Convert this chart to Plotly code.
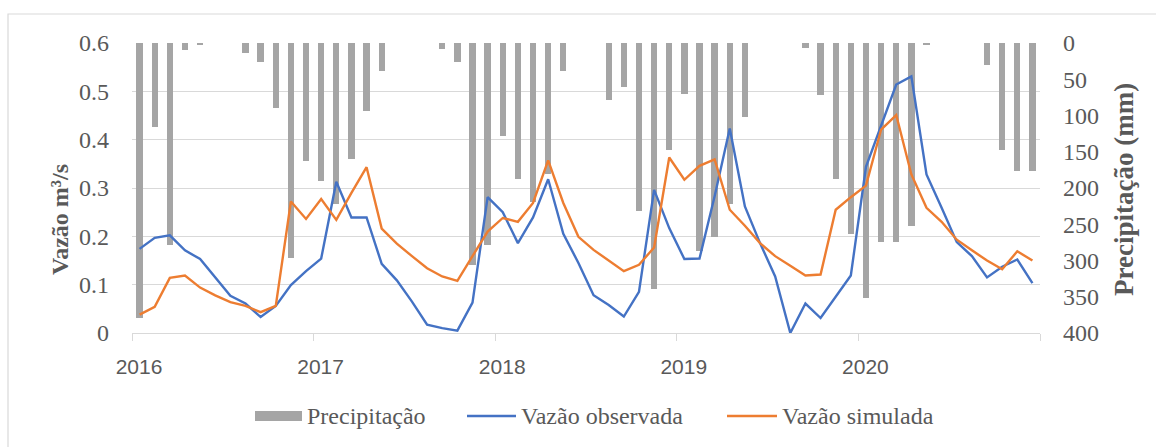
import plotly.graph_objects as go

# Monthly series, Jan 2016 - Dec 2020
months = [f"{y}-{m:02d}" for y in range(2016, 2021) for m in range(1, 13)]

precipitacao = [
    379, 116, 279, 10, 3, 0, 0, 14, 26, 90, 297, 163,
    191, 222, 160, 94, 39, 0, 0, 0, 8, 26, 306, 278,
    128, 187, 219, 180, 38, 0, 0, 78, 60, 232, 339, 148,
    70, 287, 267, 222, 102, 0, 0, 0, 7, 72, 188, 263,
    352, 274, 275, 253, 2, 0, 0, 0, 31, 147, 177, 177,
]

vazao_observada = [
    0.174, 0.197, 0.202, 0.171, 0.153, 0.114, 0.077, 0.061, 0.033, 0.056, 0.099, 0.128,
    0.154, 0.313, 0.239, 0.239, 0.143, 0.109, 0.065, 0.017, 0.010, 0.005, 0.063, 0.281,
    0.250, 0.186, 0.239, 0.318, 0.205, 0.145, 0.078, 0.058, 0.034, 0.085, 0.296, 0.217,
    0.153, 0.154, 0.283, 0.423, 0.262, 0.186, 0.117, 0.000, 0.061, 0.031, 0.074, 0.119,
    0.344, 0.427, 0.514, 0.531, 0.328, 0.259, 0.188, 0.159, 0.115, 0.137, 0.152, 0.103,
]

vazao_simulada = [
    0.038, 0.054, 0.114, 0.119, 0.094, 0.078, 0.064, 0.056, 0.043, 0.056, 0.272, 0.236,
    0.277, 0.234, 0.290, 0.343, 0.216, 0.185, 0.159, 0.134, 0.117, 0.108, 0.159, 0.210,
    0.238, 0.230, 0.269, 0.357, 0.269, 0.199, 0.172, 0.150, 0.128, 0.141, 0.177, 0.363,
    0.317, 0.346, 0.359, 0.255, 0.222, 0.186, 0.159, 0.139, 0.119, 0.121, 0.255, 0.281,
    0.305, 0.421, 0.451, 0.328, 0.259, 0.230, 0.193, 0.171, 0.150, 0.132, 0.169, 0.150,
]

year_labels = ["2016", "2017", "2018", "2019", "2020"]

# each month sits in the middle of its slot on a continuous month axis
xpos = [i + 0.5 for i in range(len(months))]
year_ticks = [12 * k for k in range(len(year_labels) + 1)]

GRAY_TXT = "#595959"
GRID = "#D9D9D9"
SERIF = "Liberation Serif, Times New Roman, serif"
SANS = "Liberation Sans, Arial, sans-serif"

W, H = 1156, 447
L, R, T, B = 132, 116, 43, 114
PW, PH = W - L - R, H - T - B


def px(x):
    return (x - L) / PW


def py(y):
    return (H - B - y) / PH


fig = go.Figure()

# precipitation hangs from the top on the reversed right-hand axis
fig.add_trace(go.Bar(
    x=xpos, y=precipitacao, name="Precipitação", yaxis="y",
    width=0.42, marker=dict(color="#A5A5A5", line=dict(width=0)),
    customdata=months, hovertemplate="%{customdata}: %{y} mm<extra></extra>",
))
fig.add_trace(go.Scatter(
    x=xpos, y=vazao_observada, name="Vazão observada", yaxis="y2",
    mode="lines", line=dict(color="#4472C4", width=2.4),
    customdata=months, hovertemplate="%{customdata}: %{y}<extra></extra>",
))
fig.add_trace(go.Scatter(
    x=xpos, y=vazao_simulada, name="Vazão simulada", yaxis="y2",
    mode="lines", line=dict(color="#ED7D31", width=2.4),
    customdata=months, hovertemplate="%{customdata}: %{y}<extra></extra>",
))

shapes = [
    # outer chart frame
    dict(type="rect", xref="paper", yref="paper",
         x0=px(8), x1=px(1175), y0=py(470), y1=py(14),
         line=dict(color=GRID, width=1.2), fillcolor="rgba(0,0,0,0)", layer="below"),
    # legend swatches
    dict(type="rect", xref="paper", yref="paper",
         x0=px(255), x1=px(302), y0=py(421), y1=py(411),
         line=dict(width=0), fillcolor="#A5A5A5"),
    dict(type="line", xref="paper", yref="paper",
         x0=px(467), x1=px(516), y0=py(416), y1=py(416),
         line=dict(color="#4472C4", width=2.6)),
    dict(type="line", xref="paper", yref="paper",
         x0=px(727), x1=px(777), y0=py(416), y1=py(416),
         line=dict(color="#ED7D31", width=2.6)),
]

annotations = [
    dict(text="Precipitação", x=px(305), y=py(416), xref="paper", yref="paper",
         xanchor="left", yanchor="middle", showarrow=False,
         font=dict(family=SERIF, size=24, color=GRAY_TXT)),
    dict(text="Vazão observada", x=px(519), y=py(416), xref="paper", yref="paper",
         xanchor="left", yanchor="middle", showarrow=False,
         font=dict(family=SERIF, size=24, color=GRAY_TXT)),
    dict(text="Vazão simulada", x=px(780), y=py(416), xref="paper", yref="paper",
         xanchor="left", yanchor="middle", showarrow=False,
         font=dict(family=SERIF, size=24, color=GRAY_TXT)),
    # axis titles
    dict(text="<b>Vazão m³/s</b>", x=px(60), y=py(220), xref="paper", yref="paper",
         xanchor="center", yanchor="middle", textangle=-90, showarrow=False,
         font=dict(family=SERIF, size=24, color=GRAY_TXT)),
    dict(text="<b>Precipitação (mm)</b>", x=px(1124), y=py(190), xref="paper", yref="paper",
         xanchor="center", yanchor="middle", textangle=-90, showarrow=False,
         font=dict(family=SERIF, size=27, color=GRAY_TXT)),
]

fig.update_layout(
    width=W, height=H,
    margin=dict(l=L, r=R, t=T, b=B),
    paper_bgcolor="white", plot_bgcolor="white",
    showlegend=False,
    bargap=0,
    shapes=shapes,
    annotations=annotations,
    xaxis=dict(
        range=[0, len(months)],
        tickmode="array", tickvals=year_ticks, ticktext=year_labels + [""],
        ticks="outside", ticklen=7, tickcolor=GRID, tickwidth=1,
        showline=True, linecolor=GRID, linewidth=1,
        showgrid=False, zeroline=False,
        ticklabelshift=7, ticklabelstandoff=8,
        tickfont=dict(family=SANS, size=21, color=GRAY_TXT),
    ),
    yaxis=dict(
        side="right", range=[400, 0], dtick=50,
        showgrid=False, zeroline=False, showline=False, ticks="",
        ticklabelstandoff=22,
        tickfont=dict(family=SERIF, size=24, color=GRAY_TXT),
    ),
    yaxis2=dict(
        overlaying="y", side="left", range=[0, 0.6], dtick=0.1,
        showgrid=True, gridcolor=GRID, gridwidth=1,
        zeroline=False, showline=False, ticks="",
        ticklabelstandoff=22,
        tickfont=dict(family=SERIF, size=24, color=GRAY_TXT),
    ),
)

fig.write_html("out.html")
